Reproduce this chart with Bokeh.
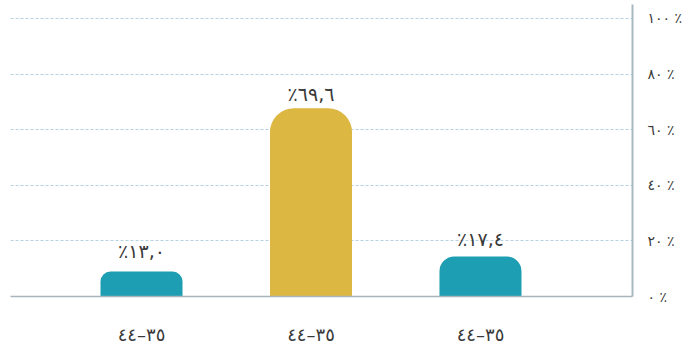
from bokeh.plotting import figure
from bokeh.models import LinearAxis, FixedTicker, Range1d, ColumnDataSource
from bokeh.core.properties import value
from bokeh.embed import file_html
from bokeh.resources import INLINE

# ---- data ----
categories = ["٣٥–٤٤", "٣٥–٤٤", "٣٥–٤٤"]
bar_values = [9.0, 67.7, 14.4]          # bar heights as drawn (%)
label_values = [13.0, 69.6, 17.4]       # printed values (%)
value_labels = ["٪١٣,٠", "٪٦٩,٦", "٪١٧,٤"]
bar_colors = ["#1e9eb2", "#dcb742", "#1e9eb2"]
y_ticks = [0, 20, 40, 60, 80, 100]
y_tick_labels = ["٠ ٪", "٢٠ ٪", "٤٠ ٪", "٦٠ ٪", "٨٠ ٪", "١٠٠ ٪"]

xs = list(range(len(categories)))
FONT = "DejaVu Sans"

p = figure(frame_width=622, frame_height=292, output_backend="svg", toolbar_location=None,
           x_range=Range1d(-0.773, 2.897), y_range=Range1d(0, 105.0),
           y_axis_location=None, min_border_left=10, min_border_top=4,
           min_border_right=57, min_border_bottom=50)
p.outline_line_color = None
p.background_fill_color = "white"
p.border_fill_color = "white"

# bars with rounded tops
ppu = 292 / 105.0
for i in xs:
    h_px = bar_values[i] * ppu
    r = int(round(min(24, 0.38 * h_px)))
    p.vbar(x=[xs[i]], top=[bar_values[i]], bottom=0, width=0.484,
           fill_color=bar_colors[i], line_color=None,
           border_radius=(r, r, 0, 0))

# value labels
src = ColumnDataSource(dict(x=xs, y=label_values, t=value_labels))
p.text(x="x", y="y", text="t", source=src, text_align="center",
       text_baseline="middle", y_offset=-9, text_font=value(FONT),
       text_font_size="19px", text_color="#3a3a3a")

# x axis (baseline)
xa = p.xaxis[0]
xa.ticker = FixedTicker(ticks=xs)
xa.major_label_overrides = {i: categories[i] for i in xs}
xa.axis_line_color = "#a9b5bc"
xa.axis_line_width = 1.5
xa.major_tick_line_color = None
xa.minor_tick_line_color = None
xa.major_tick_out = 0
xa.major_tick_in = 0
xa.major_label_standoff = 27
xa.major_label_text_font = FONT
xa.major_label_text_font_size = "18px"
xa.major_label_text_color = "#3a3a3a"

# right y axis
ya = LinearAxis(ticker=FixedTicker(ticks=y_ticks))
ya.major_label_overrides = {y_ticks[i]: y_tick_labels[i] for i in range(len(y_ticks))}
ya.axis_line_color = "#a7b9c1"
ya.axis_line_width = 2
ya.major_tick_line_color = None
ya.minor_tick_line_color = None
ya.major_tick_out = 0
ya.major_tick_in = 0
ya.major_label_standoff = 15
ya.major_label_text_font = FONT
ya.major_label_text_font_size = "14px"
ya.major_label_text_color = "#3a3a3a"
p.add_layout(ya, "right")

p.xgrid.grid_line_color = None
p.ygrid.ticker = FixedTicker(ticks=[20, 40, 60, 80, 100])
p.ygrid.grid_line_color = "#b5d1e2"
p.ygrid.grid_line_dash = "3 2"
p.ygrid.grid_line_width = 1

open("out.html", "w").write(file_html(p, INLINE))
